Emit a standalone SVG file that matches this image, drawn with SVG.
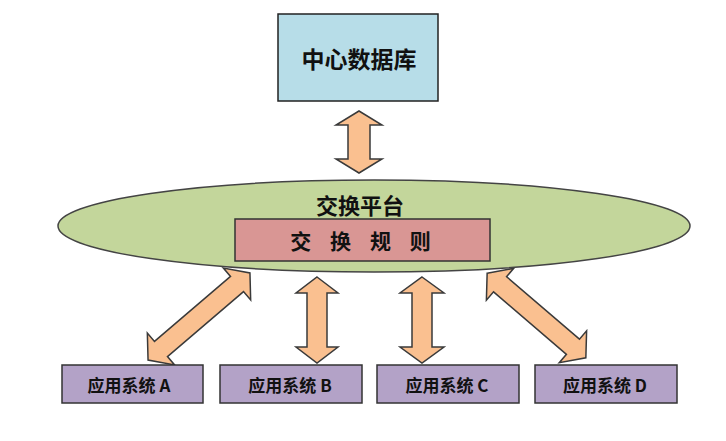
<svg xmlns="http://www.w3.org/2000/svg" width="726" height="441" viewBox="0 0 726 441">
<style>
text{font-family:"Noto Sans CJK SC","Liberation Sans",sans-serif;font-weight:bold;fill:#111;text-anchor:middle;dominant-baseline:central}
.arrow{fill:#fac090;stroke:#3a3a3a;stroke-width:1.5;stroke-linejoin:miter}
.sys{fill:#b3a2c7;stroke:#333;stroke-width:1.5}
.lbl{font-size:17px}
</style>
<rect width="726" height="441" fill="#fff"/>
<g id="connectors">
<path class="arrow" transform="translate(359,142) rotate(90)" d="M-31,0 L-17,-23 L-17,-11 L17,-11 L17,-23 L31,0 L17,23 L17,11 L-17,11 L-17,23 Z"/>
<path class="arrow" transform="translate(199,316.5) rotate(-40.5)" d="M-67,0 L-50,-21 L-50,-10 L50,-10 L50,-21 L67,0 L50,21 L50,10 L-50,10 L-50,21 Z"/>
<path class="arrow" transform="translate(317,320) rotate(90)" d="M-43,0 L-27,-21 L-27,-10 L27,-10 L27,-21 L43,0 L27,21 L27,10 L-27,10 L-27,21 Z"/>
<path class="arrow" transform="translate(422,320) rotate(90)" d="M-43,0 L-27,-22 L-27,-10 L27,-10 L27,-22 L43,0 L27,22 L27,10 L-27,10 L-27,22 Z"/>
<path class="arrow" transform="translate(536.5,315.5) rotate(40.6)" d="M-65,0 L-48,-21 L-48,-10 L48,-10 L48,-21 L65,0 L48,21 L48,10 L-48,10 L-48,21 Z"/>
</g>
<g id="central-db">
<rect x="278" y="14" width="160" height="87" fill="#b7dde8" stroke="#222" stroke-width="1.5"/>
<text x="359" y="58" font-size="23">中心数据库</text>
</g>
<g id="exchange-platform">
<ellipse cx="374" cy="226" rx="316" ry="46" fill="#c3d69b" stroke="#444" stroke-width="1.5"/>
<text x="360" y="204" font-size="22">交换平台</text>
</g>
<g id="exchange-rules">
<rect x="235" y="219" width="255" height="42" fill="#d99694" stroke="#333" stroke-width="1.5"/>
<text x="364" y="240" font-size="21" letter-spacing="7" xml:space="preserve">交 换 规 则</text>
</g>
<g id="sys-a">
<rect class="sys" x="62" y="365" width="141" height="38"/>
<text class="lbl" x="129" y="384">应用系统 A</text>
</g>
<g id="sys-b">
<rect class="sys" x="220" y="365" width="142" height="38"/>
<text class="lbl" x="290" y="384">应用系统 B</text>
</g>
<g id="sys-c">
<rect class="sys" x="377" y="365" width="142" height="38"/>
<text class="lbl" x="447" y="384">应用系统 C</text>
</g>
<g id="sys-d">
<rect class="sys" x="535" y="365" width="142" height="38"/>
<text class="lbl" x="605" y="384">应用系统 D</text>
</g>
</svg>
